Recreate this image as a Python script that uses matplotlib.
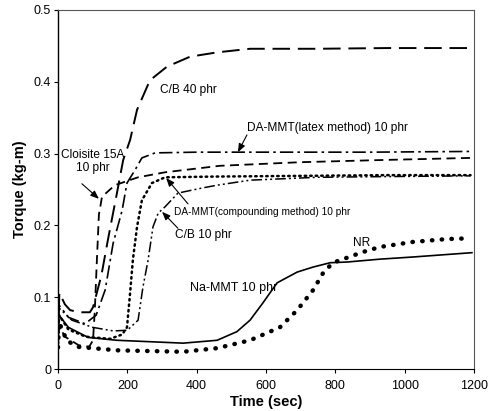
import matplotlib
matplotlib.use("Agg")
import matplotlib.pyplot as plt

plt.rcParams['font.family'] = ['Liberation Sans', 'DejaVu Sans']

# ---- data (time in sec, torque in kg-m) ----
cb40_t = [0, 4, 20, 35, 60, 92, 101, 125, 144, 170, 188, 208, 228, 265, 314, 381, 459, 554, 747, 950, 1190]
cb40_y = [0.045, 0.106, 0.090, 0.082, 0.079, 0.079, 0.086, 0.130, 0.180, 0.245, 0.291, 0.319, 0.361, 0.402, 0.421, 0.435, 0.441, 0.446, 0.446, 0.447, 0.447]

cloisite_t = [0, 3, 20, 60, 90, 101, 106, 112, 118, 127, 164, 231, 309, 467, 698, 929, 1190]
cloisite_y = [0.030, 0.060, 0.045, 0.033, 0.031, 0.040, 0.080, 0.150, 0.215, 0.240, 0.256, 0.267, 0.274, 0.283, 0.288, 0.291, 0.294]

latex_t = [0, 3, 30, 78, 110, 136, 159, 185, 199, 222, 242, 280, 400, 600, 900, 1190]
latex_y = [0.040, 0.089, 0.072, 0.063, 0.075, 0.110, 0.175, 0.221, 0.259, 0.277, 0.294, 0.301, 0.302, 0.302, 0.302, 0.303]

comp_t = [0, 3, 30, 80, 150, 185, 199, 208, 216, 228, 242, 271, 309, 450, 700, 950, 1190]
comp_y = [0.035, 0.075, 0.055, 0.045, 0.042, 0.048, 0.058, 0.106, 0.152, 0.198, 0.235, 0.259, 0.267, 0.268, 0.269, 0.270, 0.270]

cb10_t = [0, 3, 40, 100, 160, 200, 231, 245, 260, 274, 289, 309, 346, 415, 459, 554, 747, 950, 1190]
cb10_y = [0.040, 0.085, 0.068, 0.058, 0.053, 0.054, 0.068, 0.114, 0.152, 0.198, 0.217, 0.226, 0.245, 0.252, 0.256, 0.263, 0.267, 0.268, 0.269]

namt_t = [0, 3, 30, 87, 170, 361, 459, 516, 554, 591, 632, 690, 736, 785, 834, 929, 1024, 1194]
namt_y = [0.035, 0.075, 0.058, 0.044, 0.040, 0.036, 0.040, 0.052, 0.068, 0.092, 0.120, 0.135, 0.142, 0.148, 0.149, 0.153, 0.156, 0.162]

nr_t = [0, 3, 25, 55, 170, 361, 459, 554, 640, 690, 736, 765, 793, 834, 880, 929, 1024, 1122, 1189]
nr_y = [0.030, 0.065, 0.040, 0.031, 0.026, 0.024, 0.029, 0.040, 0.058, 0.082, 0.110, 0.134, 0.148, 0.155, 0.163, 0.170, 0.177, 0.181, 0.182]

x_ticks = [0, 200, 400, 600, 800, 1000, 1200]
y_ticks = [0, 0.1, 0.2, 0.3, 0.4, 0.5]
y_tick_labels = ["0", "0.1", "0.2", "0.3", "0.4", "0.5"]

fig = plt.figure(figsize=(4.91, 4.11), dpi=100)
ax = fig.add_axes([58/491, 42/411, 416/491, 359/411])

k = 'black'
ax.plot(cb40_t, cb40_y, color=k, lw=1.4, dashes=(9, 4))
ax.plot(cloisite_t, cloisite_y, color=k, lw=1.3, dashes=(5, 3))
ax.plot(latex_t, latex_y, color=k, lw=1.2, dashes=(8, 2.5, 1.5, 2.5))
ax.plot(comp_t, comp_y, color=k, lw=1.8, dashes=(0.6, 1.6), dash_capstyle='round')
ax.plot(cb10_t, cb10_y, color=k, lw=1.1, dashes=(7, 2, 1.3, 2, 1.3, 2))
ax.plot(namt_t, namt_y, color=k, lw=1.2)
ax.plot(nr_t, nr_y, color=k, lw=3.2, dashes=(0.1, 2.1), dash_capstyle='round')

ax.set_xlim(0, 1200)
ax.set_ylim(0, 0.5)
ax.set_xticks(x_ticks)
ax.set_yticks(y_ticks)
ax.set_yticklabels(y_tick_labels)
ax.tick_params(direction='out', length=3, width=0.8, labelsize=9)
ax.tick_params(axis='x', pad=5)
ax.tick_params(axis='y', pad=2)

for s in ['top', 'right']:
    ax.spines[s].set_color('#555555')
    ax.spines[s].set_linewidth(0.8)
ax.spines['left'].set_linewidth(1.0)
ax.spines['bottom'].set_linewidth(0.8)

ax.set_xlabel("Time (sec)", fontsize=10.5, fontweight='bold', labelpad=2)
ax.set_ylabel("Torque (kg-m)", fontsize=10.5, fontweight='bold', labelpad=5)

fs = 8.6
ax.text(375, 0.389, "C/B 40 phr", fontsize=fs, ha='center', va='center')
ax.text(776, 0.336, "DA-MMT(latex method) 10 phr", fontsize=fs, ha='center', va='center')
ax.text(101, 0.289, "Cloisite 15A\n10 phr", fontsize=fs, ha='center', va='center', linespacing=1.1)
ax.text(590, 0.219, "DA-MMT(compounding method) 10 phr", fontsize=7.3, ha='center', va='center')
ax.text(418, 0.187, "C/B 10 phr", fontsize=fs, ha='center', va='center')
ax.text(508, 0.113, "Na-MMT 10 phr", fontsize=9, ha='center', va='center')
ax.text(877, 0.175, "NR", fontsize=fs, ha='center', va='center')

ap = dict(arrowstyle='-|>,head_length=0.5,head_width=0.2', color='black', lw=0.8, shrinkA=0, shrinkB=0)
ax.annotate("", xy=(519, 0.302), xytext=(545, 0.326), arrowprops=ap)
ax.annotate("", xy=(118, 0.237), xytext=(69, 0.258), arrowprops=ap)
ax.annotate("", xy=(312, 0.266), xytext=(375, 0.230), arrowprops=ap)
ax.annotate("", xy=(300, 0.219), xytext=(346, 0.196), arrowprops=ap)

fig.savefig("out.png", dpi=100)
